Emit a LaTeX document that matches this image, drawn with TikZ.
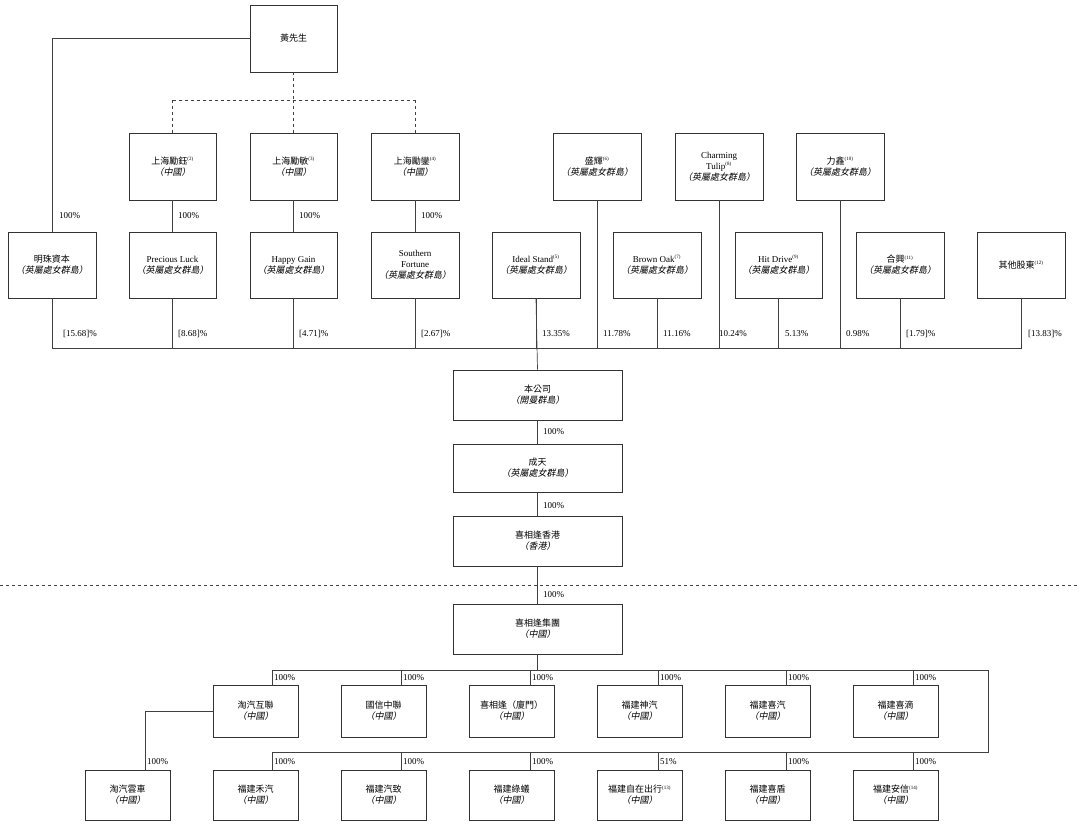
\documentclass[tikz,border=0pt]{standalone}
\usepackage{fontspec}
\setmainfont{Liberation Serif}
\newfontfamily\cjk{Noto Sans CJK TC}
\newfontfamily\cjki{Noto Sans CJK TC}[FakeSlant=0.2]
\newcommand{\zh}[1]{{\cjk #1}}
\newcommand{\zi}[1]{{\cjki （#1）}}
\newcommand{\sps}[1]{\textsuperscript{\tiny(#1)}}
\begin{document}
\begin{tikzpicture}[x=1pt,y=-1pt,
  bx/.style={draw=black!80,line width=0.7pt,minimum width=#1,align=center,font=\fontsize{9}{11}\selectfont,inner sep=1pt},
  bx/.default=87pt,
  ln/.style={draw=black!75,line width=0.7pt},
  pc/.style={font=\fontsize{9}{11}\selectfont,anchor=west,inner sep=1pt}]
\useasboundingbox (0,0) rectangle (1080,828);
\newcommand{\B}[5]{\node[bx=#3pt,minimum height=#4pt] (#1) at (#2) {#5};}
% top
\B{huang}{293.5,38.5}{87}{67}{\zh{黃先生}}
% row1
\B{yu}{172.5,166.5}{87}{67}{\zh{上海勵鈺}\sps{2}\\\zi{中國}}
\B{min}{293.5,166.5}{87}{67}{\zh{上海勵敏}\sps{3}\\\zi{中國}}
\B{luan}{415,166.5}{88}{67}{\zh{上海勵鑾}\sps{4}\\\zi{中國}}
\B{sh}{597,166.5}{88}{67}{\zh{盛輝}\sps{6}\\\zi{英屬處女群島}}
\B{ct}{719,166.5}{88}{67}{Charming\\Tulip\sps{8}\\\zi{英屬處女群島}}
\B{lx}{840,166.5}{88}{67}{\zh{力鑫}\sps{10}\\\zi{英屬處女群島}}
% row2
\B{mz}{52,265}{88}{66}{\zh{明珠資本}\\\zi{英屬處女群島}}
\B{pl}{172.5,265}{87}{66}{Precious Luck\\\zi{英屬處女群島}}
\B{hg}{293.5,265}{87}{66}{Happy Gain\\\zi{英屬處女群島}}
\B{sf}{415,265}{88}{66}{Southern\\Fortune\\\zi{英屬處女群島}}
\B{is}{536,265}{88}{66}{Ideal Stand\sps{5}\\\zi{英屬處女群島}}
\B{bo}{657,265}{88}{66}{Brown Oak\sps{7}\\\zi{英屬處女群島}}
\B{hd}{778.5,265}{87}{66}{Hit Drive\sps{9}\\\zi{英屬處女群島}}
\B{hx}{900,265}{88}{66}{\zh{合興}\sps{11}\\\zi{英屬處女群島}}
\B{qt}{1021,265}{88}{66}{\zh{其他股東}\sps{12}}
% center
\B{bgs}{537.5,395}{169}{50}{\zh{本公司}\\\zi{開曼群島}}
\B{ctn}{537.5,468}{169}{48}{\zh{成天}\\\zi{英屬處女群島}}
\B{hk}{537.5,541}{169}{50}{\zh{喜相逢香港}\\\zi{香港}}
\B{grp}{537.5,629}{169}{50}{\zh{喜相逢集團}\\\zi{中國}}
% row3
\B{tq}{255.5,711}{85}{52}{\zh{淘汽互聯}\\\zi{中國}}
\B{gx}{383.5,711}{85}{52}{\zh{國信中聯}\\\zi{中國}}
\B{xm}{511.5,711}{85}{52}{\zh{喜相逢（廈門）}\\\zi{中國}}
\B{sq}{639.5,711}{85}{52}{\zh{福建神汽}\\\zi{中國}}
\B{xq}{767.5,711}{85}{52}{\zh{福建喜汽}\\\zi{中國}}
\B{xd}{895.5,711}{85}{52}{\zh{福建喜滴}\\\zi{中國}}
% row4
\B{yc}{127.5,795}{85}{50}{\zh{淘汽雲車}\\\zi{中國}}
\B{hq}{255.5,795}{85}{50}{\zh{福建禾汽}\\\zi{中國}}
\B{qz}{383.5,795}{85}{50}{\zh{福建汽致}\\\zi{中國}}
\B{ly}{511.5,795}{85}{50}{\zh{福建綠蟻}\\\zi{中國}}
\B{zz}{639.5,795}{85}{50}{\zh{福建自在出行}\sps{13}\\\zi{中國}}
\B{xdun}{767.5,795}{85}{50}{\zh{福建喜盾}\\\zi{中國}}
\B{ax}{895.5,795}{85}{50}{\zh{福建安信}\sps{14}\\\zi{中國}}
% top links
\draw[ln] (huang.west) -| (mz.north);
\node[pc] at (58,216) {100\%};
\draw[ln,dashed] (huang.south) -- (293.5,100);
\draw[ln,dashed] (172.5,100) -- (415,100);
\draw[ln,dashed] (172.5,100) -- (yu.north);
\draw[ln,dashed] (415,100) -- (luan.north);
\draw[ln,dashed] (293.5,100) -- (min.north);
\foreach \a/\b in {yu/pl,min/hg,luan/sf}{\draw[ln] (\a.south) -- (\b.north);}
\node[pc] at (177,216) {100\%};
\node[pc] at (298,216) {100\%};
\node[pc] at (420,216) {100\%};
% bottom bar
\draw[ln] (52,348) -- (1022,348);
\foreach \n in {mz,pl,hg,sf,is,bo,hd,hx,qt}{\draw[ln] (\n.south) -- (\n.south |- 0,348);}
\foreach \n in {sh,ct,lx}{\draw[ln] (\n.south) -- (\n.south |- 0,348);}
\draw[ln] (is.south) -- (bgs.north);
\foreach \x/\t in {62/[15.68]\%,177/[8.68]\%,298/[4.71]\%,420/[2.67]\%,541/13.35\%,602/11.78\%,662/11.16\%,718/10.24\%,784/5.13\%,845/0.98\%,905/[1.79]\%,1027/[13.83]\%}{\node[pc] at (\x,334) {\t};}
% center chain
\draw[ln] (bgs) -- (ctn);
\draw[ln] (ctn) -- (hk);
\draw[ln] (hk) -- (grp);
\node[pc] at (542,432) {100\%};
\node[pc] at (542,506) {100\%};
\node[pc] at (542,595) {100\%};
\draw[ln,dashed] (0,585) -- (1080,585);
% subsidiaries
\draw[ln] (grp.south) -- (537.5,670);
\draw[ln] (272,670) -- (988,670) -- (988,752) -- (272,752);
\foreach \n/\x in {tq/272,gx/401,xm/530,sq/658,xq/786,xd/913}{\draw[ln] (\x,670) -- (\x,0 |- \n.north); \node[pc] at (\x+1,678) {100\%};}
\foreach \n/\x/\t in {hq/272/100\%,qz/401/100\%,ly/530/100\%,zz/658/51\%,xdun/786/100\%,ax/913/100\%}{\draw[ln] (\x,752) -- (\x,0 |- \n.north); \node[pc] at (\x+1,762) {\t};}
\draw[ln] (tq.west) -| (145,0 |- yc.north);
\node[pc] at (146,762) {100\%};
\end{tikzpicture}
\end{document}
